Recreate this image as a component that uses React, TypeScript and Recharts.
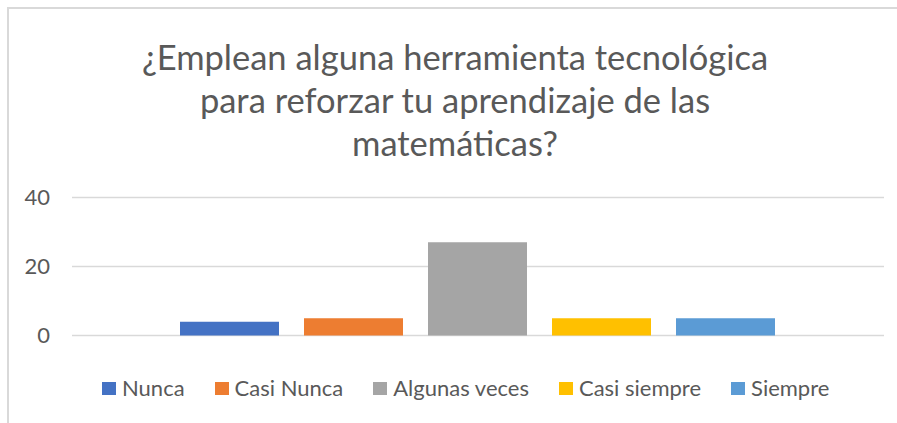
import { BarChart, Bar, XAxis, YAxis, CartesianGrid, Legend } from "recharts";

const TITLE_LINES = ["¿Emplean alguna herramienta tecnológica", "para reforzar tu aprendizaje de las", "matemáticas?"];
const SERIES = ["Nunca", "Casi Nunca", "Algunas veces", "Casi siempre", "Siempre"];
const VALUES = [4, 5, 27, 5, 5];
const COLORS = ["#4472C4", "#ED7D31", "#A5A5A5", "#FFC000", "#5B9BD5"];
const Y_TICKS = [0, 20, 40];

const row: Record<string, any> = { name: "" };
SERIES.forEach((s, i) => { row[s] = VALUES[i]; });
const data = [row];

const FONT = "Lato, 'Open Sans', sans-serif";
const TEXT = "#595959";

const LegendBox = () => (
  <div style={{ display: "flex", alignItems: "center", paddingLeft: 102, gap: 30, fontFamily: FONT, fontSize: 22, color: TEXT }}>
    {SERIES.map((s, i) => (
      <div key={s} style={{ display: "flex", alignItems: "center" }}>
        <div style={{ width: 14, height: 13, background: COLORS[i], marginRight: 6 }} />
        <span style={{ lineHeight: "26px" }}>{s}</span>
      </div>
    ))}
  </div>
);

export default function App() {
  return (
    <div style={{ position: "absolute", left: 0, top: 0, width: 897, height: 423, overflow: "hidden", background: "#fff" }}>
      {/* chart border, runs off the right/bottom edge like the screenshot */}
      <div style={{ position: "absolute", left: 7, top: 7, width: 1000, height: 1000, border: "2px solid #d9d9d9" }} />
      <div style={{ position: "absolute", left: 6, top: 35, width: 898, textAlign: "center", fontFamily: FONT, fontSize: 34.5, lineHeight: "43px", color: TEXT }}>
        {TITLE_LINES.map((l) => <div key={l}>{l}</div>)}
      </div>
      <div style={{ position: "absolute", left: 0, top: 0 }}>
        {/* legend height (26px) is taken from the bottom margin by recharts */}
        <BarChart width={897} height={423} data={data} margin={{ top: 197.5, right: 13, bottom: 61.5, left: 0 }} barCategoryGap={108} barGap={25}>
          <CartesianGrid vertical={false} stroke="#d9d9d9" strokeWidth={1.5} />
          <XAxis dataKey="name" hide />
          <YAxis domain={[0, 40]} ticks={Y_TICKS} width={72} axisLine={false} tickLine={false} tickMargin={16}
            tick={{ fill: TEXT, fontSize: 22, fontFamily: FONT }} />
          {SERIES.map((s, i) => (
            <Bar key={s} dataKey={s} fill={COLORS[i]} isAnimationActive={false} />
          ))}
          <Legend content={<LegendBox />} wrapperStyle={{ left: 0, top: 375, width: 897 }} />
        </BarChart>
      </div>
    </div>
  );
}
